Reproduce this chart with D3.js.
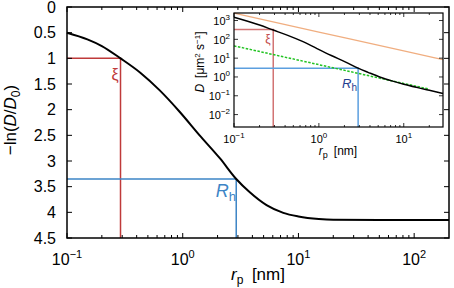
<!DOCTYPE html>
<html>
<head>
<meta charset="utf-8">
<script src="https://cdn.jsdelivr.net/npm/d3@7"></script>
<style>
  body { margin: 0; background: #fff; }
  svg { display: block; font-family: "Liberation Sans", Arial, sans-serif; }
</style>
</head>
<body>
<div id="chart"></div>
<script>
// main curve: -ln(D/D0) vs particle radius r_p [nm]
const mainR = [0.1, 0.15, 0.2, 0.29, 0.43, 0.63, 0.94, 1.4, 2.1, 2.9, 3.8, 5.3, 7.4, 10, 15, 20, 50, 200];
const mainNegLn = [0.50, 0.63, 0.76, 1.00, 1.28, 1.62, 2.04, 2.50, 2.95, 3.35, 3.61, 3.86, 4.01, 4.08, 4.13, 4.145, 4.15, 4.15];
const yTicks = [0, 0.5, 1, 1.5, 2, 2.5, 3, 3.5, 4, 4.5];
const xDecades = [-1, 0, 1, 2];

// marker values
const xi = 0.29, xiVal = 1.0;
const rh = 2.9, rhVal = 3.35;

// inset: D [um^2 s^-1] vs r_p
const insetR = [0.1, 0.2, 0.29, 0.43, 0.63, 0.94, 1.4, 2.1, 2.9, 3.8, 5.3, 7.4, 10, 15, 20, 29];
const insetD = [1490, 573, 311, 163, 80, 33, 13.9, 6.0, 2.93, 1.76, 0.97, 0.60, 0.41, 0.263, 0.195, 0.133];
const orangeR = [0.1, 1, 10, 29];
const orangeD = [2450, 245, 24.5, 8.4];
const greenR = [0.1, 1, 10, 20];
const greenD = [45, 4.5, 0.45, 0.225];
const insetYDecades = [-2, -1, 0, 1, 2, 3];
const insetXDecades = [-1, 0, 1];
const xiD = 330, rhD = 2.93;

const width = 454, height = 288;
const svg = d3.select("#chart").append("svg")
  .attr("width", width).attr("height", height);

const sup = n => (n < 0 ? "\u2212" + (-n) : "" + n);
function minorTicks(lo, hi) {
  const out = [];
  for (let e = Math.floor(Math.log10(lo)); e <= Math.ceil(Math.log10(hi)); e++) {
    for (let k = 2; k <= 9; k++) {
      const v = k * Math.pow(10, e);
      if (v > lo && v < hi) out.push(v);
    }
  }
  return out;
}

// ---------- main plot ----------
const L = 67, R = 449, T = 7, B = 238;
const x = d3.scaleLog().domain([0.1, 200]).range([L, R]);
const y = d3.scaleLinear().domain([0, 4.5]).range([T, B]);

const red = "#bf3a3a", blue = "#3d85c6";

// marker lines
svg.append("path")
  .attr("d", `M${x(0.1)},${y(xiVal)}H${x(xi)}V${B}`)
  .attr("fill", "none").attr("stroke", red).attr("stroke-width", 1.5);
svg.append("path")
  .attr("d", `M${x(0.1)},${y(rhVal)}H${x(rh)}V${B}`)
  .attr("fill", "none").attr("stroke", blue).attr("stroke-width", 1.5);

const line = d3.line().x((d, i) => x(mainR[i])).y(d => y(d)).curve(d3.curveMonotoneX);
svg.append("path")
  .attr("d", line(mainNegLn))
  .attr("fill", "none").attr("stroke", "#000").attr("stroke-width", 2);

// ticks (inside, all sides)
const minorX = minorTicks(0.1, 200);
const majorX = xDecades.map(e => Math.pow(10, e));
function xTicks(g, pos, dir) {
  majorX.forEach(v => g.append("line").attr("x1", x(v)).attr("x2", x(v)).attr("y1", pos).attr("y2", pos + dir * 5));
  minorX.forEach(v => g.append("line").attr("x1", x(v)).attr("x2", x(v)).attr("y1", pos).attr("y2", pos + dir * 3));
}
const tg = svg.append("g").attr("stroke", "#000").attr("stroke-width", 1);
xTicks(tg, B, -1);
xTicks(tg, T, 1);
yTicks.forEach(v => {
  tg.append("line").attr("x1", L).attr("x2", L + 5).attr("y1", y(v)).attr("y2", y(v));
  tg.append("line").attr("x1", R).attr("x2", R - 5).attr("y1", y(v)).attr("y2", y(v));
});

svg.append("rect")
  .attr("x", L).attr("y", T).attr("width", R - L).attr("height", B - T)
  .attr("fill", "none").attr("stroke", "#000").attr("stroke-width", 1.5);

// tick labels
svg.append("g").selectAll("text").data(yTicks).join("text")
  .attr("x", L - 11).attr("y", d => y(d)).attr("dy", "0.36em")
  .attr("text-anchor", "end").attr("font-size", 16)
  .text(d => d);

const xl = svg.append("g").selectAll("text").data(xDecades).join("text")
  .attr("x", d => x(Math.pow(10, d))).attr("y", 265)
  .attr("text-anchor", "middle").attr("font-size", 16);
xl.append("tspan").text("10");
xl.append("tspan").attr("dy", -7).attr("font-size", 11).text(d => sup(d));

// axis labels
const xlab = svg.append("text").attr("x", 258).attr("y", 280)
  .attr("text-anchor", "middle").attr("font-size", 17);
xlab.append("tspan").attr("font-style", "italic").text("r");
xlab.append("tspan").attr("dy", 4).attr("font-size", 12).text("p");
xlab.append("tspan").attr("dy", -4).text("\u2002[nm]");

const ylab = svg.append("text").attr("transform", "translate(16,120) rotate(-90)")
  .attr("text-anchor", "middle").attr("font-size", 17);
ylab.append("tspan").text("\u2212ln(");
ylab.append("tspan").attr("font-style", "italic").text("D");
ylab.append("tspan").text("/");
ylab.append("tspan").attr("font-style", "italic").text("D");
ylab.append("tspan").attr("dy", 4).attr("font-size", 12).text("0");
ylab.append("tspan").attr("dy", -4).text(")");

// marker labels
svg.append("text").attr("x", 115).attr("y", 80).attr("text-anchor", "middle")
  .attr("font-size", 16).attr("fill", red).text("\u03be");
const rhLab = svg.append("text").attr("x", 236).attr("y", 197).attr("text-anchor", "end")
  .attr("font-size", 18).attr("fill", blue);
rhLab.append("tspan").attr("font-style", "italic").text("R");
rhLab.append("tspan").attr("dy", 4).attr("font-size", 13).text("h");

// ---------- inset ----------
const iL = 234, iR = 443, iT = 13, iB = 127;
const ix = d3.scaleLog().domain([0.1, 29]).range([iL, iR]);
const iy = d3.scaleLog().domain([Math.pow(10, -2.66), Math.pow(10, 3.4)]).range([iB, iT]);

svg.append("rect").attr("x", iL).attr("y", iT).attr("width", iR - iL).attr("height", iB - iT)
  .attr("fill", "#fff");

const ig = svg.append("g");
ig.append("path").attr("d", `M${iL},${iy(xiD)}H${ix(xi)}V${iB}`)
  .attr("fill", "none").attr("stroke", "#d27474").attr("stroke-width", 1.5);
ig.append("path").attr("d", `M${iL},${iy(rhD)}H${ix(rh)}V${iB}`)
  .attr("fill", "none").attr("stroke", "#5c9fdf").attr("stroke-width", 1.5);

const iline = (rs) => d3.line().x((d, i) => ix(rs[i])).y(d => iy(d)).curve(d3.curveMonotoneX);
ig.append("path").attr("d", iline(orangeR)(orangeD))
  .attr("fill", "none").attr("stroke", "#f0ae80").attr("stroke-width", 1.3);
ig.append("path").attr("d", iline(greenR)(greenD))
  .attr("fill", "none").attr("stroke", "#22c322").attr("stroke-width", 1.5)
  .attr("stroke-dasharray", "2.5,1.5");
ig.append("path").attr("d", iline(insetR)(insetD))
  .attr("fill", "none").attr("stroke", "#000").attr("stroke-width", 1.5);

const itg = svg.append("g").attr("stroke", "#000").attr("stroke-width", 0.8);
const iMinorX = minorTicks(0.1, 29);
insetXDecades.map(e => Math.pow(10, e)).forEach(v => {
  itg.append("line").attr("x1", ix(v)).attr("x2", ix(v)).attr("y1", iB).attr("y2", iB - 4);
  itg.append("line").attr("x1", ix(v)).attr("x2", ix(v)).attr("y1", iT).attr("y2", iT + 4);
});
iMinorX.forEach(v => {
  itg.append("line").attr("x1", ix(v)).attr("x2", ix(v)).attr("y1", iB).attr("y2", iB - 2);
  itg.append("line").attr("x1", ix(v)).attr("x2", ix(v)).attr("y1", iT).attr("y2", iT + 2);
});
insetYDecades.map(e => Math.pow(10, e)).forEach(v => {
  itg.append("line").attr("x1", iL).attr("x2", iL + 4).attr("y1", iy(v)).attr("y2", iy(v));
  itg.append("line").attr("x1", iR).attr("x2", iR - 4).attr("y1", iy(v)).attr("y2", iy(v));
});
svg.append("rect").attr("x", iL).attr("y", iT).attr("width", iR - iL).attr("height", iB - iT)
  .attr("fill", "none").attr("stroke", "#000").attr("stroke-width", 1.2);

const iyl = svg.append("g").selectAll("text").data(insetYDecades).join("text")
  .attr("x", iL - 4).attr("y", d => iy(Math.pow(10, d))).attr("dy", "0.4em")
  .attr("text-anchor", "end").attr("font-size", 11);
iyl.append("tspan").text("10");
iyl.append("tspan").attr("dy", -5).attr("font-size", 8).text(d => sup(d));

const ixl = svg.append("g").selectAll("text").data(insetXDecades).join("text")
  .attr("x", d => ix(Math.pow(10, d))).attr("y", 143)
  .attr("text-anchor", "middle").attr("font-size", 11);
ixl.append("tspan").text("10");
ixl.append("tspan").attr("dy", -5).attr("font-size", 8).text(d => sup(d));

const ixlab = svg.append("text").attr("x", 338).attr("y", 155)
  .attr("text-anchor", "middle").attr("font-size", 12);
ixlab.append("tspan").attr("font-style", "italic").text("r");
ixlab.append("tspan").attr("dy", 3).attr("font-size", 9).text("p");
ixlab.append("tspan").attr("dy", -3).text("\u2002[nm]");

const iylab = svg.append("text").attr("transform", "translate(204,62) rotate(-90)")
  .attr("text-anchor", "middle").attr("font-size", 12);
iylab.append("tspan").attr("font-style", "italic").text("D");
iylab.append("tspan").text("\u2002[\u03bcm");
iylab.append("tspan").attr("dy", -4).attr("font-size", 8).text("2");
iylab.append("tspan").attr("dy", 4).text(" s");
iylab.append("tspan").attr("dy", -4).attr("font-size", 8).text("\u22121");
iylab.append("tspan").attr("dy", 4).text("]");

svg.append("text").attr("x", 268).attr("y", 43).attr("text-anchor", "middle")
  .attr("font-size", 12).attr("fill", "#c24848").text("\u03be");
const irh = svg.append("text").attr("x", 357).attr("y", 88).attr("text-anchor", "end")
  .attr("font-size", 13).attr("fill", "#1f3d8f");
irh.append("tspan").attr("font-style", "italic").text("R");
irh.append("tspan").attr("dy", 3).attr("font-size", 10).text("h");
</script>
</body>
</html>
